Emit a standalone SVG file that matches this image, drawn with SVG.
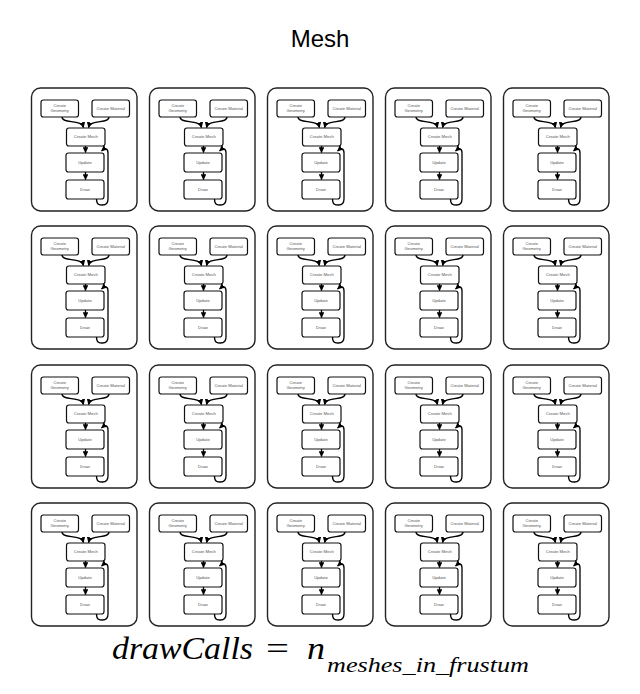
<svg xmlns="http://www.w3.org/2000/svg" width="640" height="694" viewBox="0 0 640 694">
<defs>
<style>
.frame{fill:#fff;stroke:#222;stroke-width:1.4}
.n{fill:#fff;stroke:#111;stroke-width:1.2}
.t{font-family:"Liberation Sans",Arial,sans-serif;font-size:4.2px;fill:#555;text-anchor:middle}
.e{fill:none;stroke:#000;stroke-width:1.3;marker-end:url(#ah)}
.title{font-family:"Liberation Sans",Arial,sans-serif;font-size:24px;fill:#000;text-anchor:middle}
.m{font-family:"Liberation Serif","Times New Roman",serif;font-style:italic;fill:#000}
</style>
<marker id="ah" viewBox="0 0 6 6" refX="5.5" refY="3" markerWidth="5.8" markerHeight="5.8" markerUnits="userSpaceOnUse" orient="auto"><path d="M0,0 L6,3 L0,6 z" fill="#000"/></marker>
</defs>
<rect width="640" height="694" fill="#fff"/>
<text class="title" x="320" y="47">Mesh</text>

<g id="c11" transform="translate(31.5,88)">
<rect class="frame" x="0" y="0" width="105.5" height="123" rx="9"/>
<g id="c11-geo"><rect class="n" x="9.5" y="12" width="37.5" height="17" rx="2.5"/><text class="t" x="28.25" y="19.4">Create</text><text class="t" x="28.25" y="24.4">Geometry</text></g>
<g id="c11-mat"><rect class="n" x="60.5" y="12" width="37.5" height="17" rx="2.5"/><text class="t" x="79.25" y="21.9">Create Material</text></g>
<g id="c11-mesh"><rect class="n" x="35" y="40" width="38.5" height="18" rx="2.5"/><text class="t" x="54.25" y="50.4">Create Mesh</text></g>
<g id="c11-upd"><rect class="n" x="34.5" y="65" width="38" height="19" rx="2.5"/><text class="t" x="53.5" y="75.9">Update</text></g>
<g id="c11-draw"><rect class="n" x="34.5" y="92" width="38" height="19" rx="2.5"/><text class="t" x="53.5" y="102.9">Draw</text></g>
<g id="c11-edges"><path class="e" d="M30.5,29 C30.5,36 50,31 52,39.5"/><path class="e" d="M77.5,29 C77.5,36 59,31 57,39.5"/><path class="e" d="M54,58 L54,64.5"/><path class="e" d="M54,84 L54,91.5"/><path class="e" d="M65,111 C65,117 68,117 71,117 C75,117 76.5,115 76.5,111 L76.5,65 C76.5,60 73.5,60 70,63"/></g>
</g>
<g id="c12" transform="translate(149.5,88)">
<rect class="frame" x="0" y="0" width="105.5" height="123" rx="9"/>
<g id="c12-geo"><rect class="n" x="9.5" y="12" width="37.5" height="17" rx="2.5"/><text class="t" x="28.25" y="19.4">Create</text><text class="t" x="28.25" y="24.4">Geometry</text></g>
<g id="c12-mat"><rect class="n" x="60.5" y="12" width="37.5" height="17" rx="2.5"/><text class="t" x="79.25" y="21.9">Create Material</text></g>
<g id="c12-mesh"><rect class="n" x="35" y="40" width="38.5" height="18" rx="2.5"/><text class="t" x="54.25" y="50.4">Create Mesh</text></g>
<g id="c12-upd"><rect class="n" x="34.5" y="65" width="38" height="19" rx="2.5"/><text class="t" x="53.5" y="75.9">Update</text></g>
<g id="c12-draw"><rect class="n" x="34.5" y="92" width="38" height="19" rx="2.5"/><text class="t" x="53.5" y="102.9">Draw</text></g>
<g id="c12-edges"><path class="e" d="M30.5,29 C30.5,36 50,31 52,39.5"/><path class="e" d="M77.5,29 C77.5,36 59,31 57,39.5"/><path class="e" d="M54,58 L54,64.5"/><path class="e" d="M54,84 L54,91.5"/><path class="e" d="M65,111 C65,117 68,117 71,117 C75,117 76.5,115 76.5,111 L76.5,65 C76.5,60 73.5,60 70,63"/></g>
</g>
<g id="c13" transform="translate(267.5,88)">
<rect class="frame" x="0" y="0" width="105.5" height="123" rx="9"/>
<g id="c13-geo"><rect class="n" x="9.5" y="12" width="37.5" height="17" rx="2.5"/><text class="t" x="28.25" y="19.4">Create</text><text class="t" x="28.25" y="24.4">Geometry</text></g>
<g id="c13-mat"><rect class="n" x="60.5" y="12" width="37.5" height="17" rx="2.5"/><text class="t" x="79.25" y="21.9">Create Material</text></g>
<g id="c13-mesh"><rect class="n" x="35" y="40" width="38.5" height="18" rx="2.5"/><text class="t" x="54.25" y="50.4">Create Mesh</text></g>
<g id="c13-upd"><rect class="n" x="34.5" y="65" width="38" height="19" rx="2.5"/><text class="t" x="53.5" y="75.9">Update</text></g>
<g id="c13-draw"><rect class="n" x="34.5" y="92" width="38" height="19" rx="2.5"/><text class="t" x="53.5" y="102.9">Draw</text></g>
<g id="c13-edges"><path class="e" d="M30.5,29 C30.5,36 50,31 52,39.5"/><path class="e" d="M77.5,29 C77.5,36 59,31 57,39.5"/><path class="e" d="M54,58 L54,64.5"/><path class="e" d="M54,84 L54,91.5"/><path class="e" d="M65,111 C65,117 68,117 71,117 C75,117 76.5,115 76.5,111 L76.5,65 C76.5,60 73.5,60 70,63"/></g>
</g>
<g id="c14" transform="translate(385.5,88)">
<rect class="frame" x="0" y="0" width="105.5" height="123" rx="9"/>
<g id="c14-geo"><rect class="n" x="9.5" y="12" width="37.5" height="17" rx="2.5"/><text class="t" x="28.25" y="19.4">Create</text><text class="t" x="28.25" y="24.4">Geometry</text></g>
<g id="c14-mat"><rect class="n" x="60.5" y="12" width="37.5" height="17" rx="2.5"/><text class="t" x="79.25" y="21.9">Create Material</text></g>
<g id="c14-mesh"><rect class="n" x="35" y="40" width="38.5" height="18" rx="2.5"/><text class="t" x="54.25" y="50.4">Create Mesh</text></g>
<g id="c14-upd"><rect class="n" x="34.5" y="65" width="38" height="19" rx="2.5"/><text class="t" x="53.5" y="75.9">Update</text></g>
<g id="c14-draw"><rect class="n" x="34.5" y="92" width="38" height="19" rx="2.5"/><text class="t" x="53.5" y="102.9">Draw</text></g>
<g id="c14-edges"><path class="e" d="M30.5,29 C30.5,36 50,31 52,39.5"/><path class="e" d="M77.5,29 C77.5,36 59,31 57,39.5"/><path class="e" d="M54,58 L54,64.5"/><path class="e" d="M54,84 L54,91.5"/><path class="e" d="M65,111 C65,117 68,117 71,117 C75,117 76.5,115 76.5,111 L76.5,65 C76.5,60 73.5,60 70,63"/></g>
</g>
<g id="c15" transform="translate(503.5,88)">
<rect class="frame" x="0" y="0" width="105.5" height="123" rx="9"/>
<g id="c15-geo"><rect class="n" x="9.5" y="12" width="37.5" height="17" rx="2.5"/><text class="t" x="28.25" y="19.4">Create</text><text class="t" x="28.25" y="24.4">Geometry</text></g>
<g id="c15-mat"><rect class="n" x="60.5" y="12" width="37.5" height="17" rx="2.5"/><text class="t" x="79.25" y="21.9">Create Material</text></g>
<g id="c15-mesh"><rect class="n" x="35" y="40" width="38.5" height="18" rx="2.5"/><text class="t" x="54.25" y="50.4">Create Mesh</text></g>
<g id="c15-upd"><rect class="n" x="34.5" y="65" width="38" height="19" rx="2.5"/><text class="t" x="53.5" y="75.9">Update</text></g>
<g id="c15-draw"><rect class="n" x="34.5" y="92" width="38" height="19" rx="2.5"/><text class="t" x="53.5" y="102.9">Draw</text></g>
<g id="c15-edges"><path class="e" d="M30.5,29 C30.5,36 50,31 52,39.5"/><path class="e" d="M77.5,29 C77.5,36 59,31 57,39.5"/><path class="e" d="M54,58 L54,64.5"/><path class="e" d="M54,84 L54,91.5"/><path class="e" d="M65,111 C65,117 68,117 71,117 C75,117 76.5,115 76.5,111 L76.5,65 C76.5,60 73.5,60 70,63"/></g>
</g>

<g id="c21" transform="translate(31.5,226)">
<rect class="frame" x="0" y="0" width="105.5" height="123" rx="9"/>
<g id="c21-geo"><rect class="n" x="9.5" y="12" width="37.5" height="17" rx="2.5"/><text class="t" x="28.25" y="19.4">Create</text><text class="t" x="28.25" y="24.4">Geometry</text></g>
<g id="c21-mat"><rect class="n" x="60.5" y="12" width="37.5" height="17" rx="2.5"/><text class="t" x="79.25" y="21.9">Create Material</text></g>
<g id="c21-mesh"><rect class="n" x="35" y="40" width="38.5" height="18" rx="2.5"/><text class="t" x="54.25" y="50.4">Create Mesh</text></g>
<g id="c21-upd"><rect class="n" x="34.5" y="65" width="38" height="19" rx="2.5"/><text class="t" x="53.5" y="75.9">Update</text></g>
<g id="c21-draw"><rect class="n" x="34.5" y="92" width="38" height="19" rx="2.5"/><text class="t" x="53.5" y="102.9">Draw</text></g>
<g id="c21-edges"><path class="e" d="M30.5,29 C30.5,36 50,31 52,39.5"/><path class="e" d="M77.5,29 C77.5,36 59,31 57,39.5"/><path class="e" d="M54,58 L54,64.5"/><path class="e" d="M54,84 L54,91.5"/><path class="e" d="M65,111 C65,117 68,117 71,117 C75,117 76.5,115 76.5,111 L76.5,65 C76.5,60 73.5,60 70,63"/></g>
</g>
<g id="c22" transform="translate(149.5,226)">
<rect class="frame" x="0" y="0" width="105.5" height="123" rx="9"/>
<g id="c22-geo"><rect class="n" x="9.5" y="12" width="37.5" height="17" rx="2.5"/><text class="t" x="28.25" y="19.4">Create</text><text class="t" x="28.25" y="24.4">Geometry</text></g>
<g id="c22-mat"><rect class="n" x="60.5" y="12" width="37.5" height="17" rx="2.5"/><text class="t" x="79.25" y="21.9">Create Material</text></g>
<g id="c22-mesh"><rect class="n" x="35" y="40" width="38.5" height="18" rx="2.5"/><text class="t" x="54.25" y="50.4">Create Mesh</text></g>
<g id="c22-upd"><rect class="n" x="34.5" y="65" width="38" height="19" rx="2.5"/><text class="t" x="53.5" y="75.9">Update</text></g>
<g id="c22-draw"><rect class="n" x="34.5" y="92" width="38" height="19" rx="2.5"/><text class="t" x="53.5" y="102.9">Draw</text></g>
<g id="c22-edges"><path class="e" d="M30.5,29 C30.5,36 50,31 52,39.5"/><path class="e" d="M77.5,29 C77.5,36 59,31 57,39.5"/><path class="e" d="M54,58 L54,64.5"/><path class="e" d="M54,84 L54,91.5"/><path class="e" d="M65,111 C65,117 68,117 71,117 C75,117 76.5,115 76.5,111 L76.5,65 C76.5,60 73.5,60 70,63"/></g>
</g>
<g id="c23" transform="translate(267.5,226)">
<rect class="frame" x="0" y="0" width="105.5" height="123" rx="9"/>
<g id="c23-geo"><rect class="n" x="9.5" y="12" width="37.5" height="17" rx="2.5"/><text class="t" x="28.25" y="19.4">Create</text><text class="t" x="28.25" y="24.4">Geometry</text></g>
<g id="c23-mat"><rect class="n" x="60.5" y="12" width="37.5" height="17" rx="2.5"/><text class="t" x="79.25" y="21.9">Create Material</text></g>
<g id="c23-mesh"><rect class="n" x="35" y="40" width="38.5" height="18" rx="2.5"/><text class="t" x="54.25" y="50.4">Create Mesh</text></g>
<g id="c23-upd"><rect class="n" x="34.5" y="65" width="38" height="19" rx="2.5"/><text class="t" x="53.5" y="75.9">Update</text></g>
<g id="c23-draw"><rect class="n" x="34.5" y="92" width="38" height="19" rx="2.5"/><text class="t" x="53.5" y="102.9">Draw</text></g>
<g id="c23-edges"><path class="e" d="M30.5,29 C30.5,36 50,31 52,39.5"/><path class="e" d="M77.5,29 C77.5,36 59,31 57,39.5"/><path class="e" d="M54,58 L54,64.5"/><path class="e" d="M54,84 L54,91.5"/><path class="e" d="M65,111 C65,117 68,117 71,117 C75,117 76.5,115 76.5,111 L76.5,65 C76.5,60 73.5,60 70,63"/></g>
</g>
<g id="c24" transform="translate(385.5,226)">
<rect class="frame" x="0" y="0" width="105.5" height="123" rx="9"/>
<g id="c24-geo"><rect class="n" x="9.5" y="12" width="37.5" height="17" rx="2.5"/><text class="t" x="28.25" y="19.4">Create</text><text class="t" x="28.25" y="24.4">Geometry</text></g>
<g id="c24-mat"><rect class="n" x="60.5" y="12" width="37.5" height="17" rx="2.5"/><text class="t" x="79.25" y="21.9">Create Material</text></g>
<g id="c24-mesh"><rect class="n" x="35" y="40" width="38.5" height="18" rx="2.5"/><text class="t" x="54.25" y="50.4">Create Mesh</text></g>
<g id="c24-upd"><rect class="n" x="34.5" y="65" width="38" height="19" rx="2.5"/><text class="t" x="53.5" y="75.9">Update</text></g>
<g id="c24-draw"><rect class="n" x="34.5" y="92" width="38" height="19" rx="2.5"/><text class="t" x="53.5" y="102.9">Draw</text></g>
<g id="c24-edges"><path class="e" d="M30.5,29 C30.5,36 50,31 52,39.5"/><path class="e" d="M77.5,29 C77.5,36 59,31 57,39.5"/><path class="e" d="M54,58 L54,64.5"/><path class="e" d="M54,84 L54,91.5"/><path class="e" d="M65,111 C65,117 68,117 71,117 C75,117 76.5,115 76.5,111 L76.5,65 C76.5,60 73.5,60 70,63"/></g>
</g>
<g id="c25" transform="translate(503.5,226)">
<rect class="frame" x="0" y="0" width="105.5" height="123" rx="9"/>
<g id="c25-geo"><rect class="n" x="9.5" y="12" width="37.5" height="17" rx="2.5"/><text class="t" x="28.25" y="19.4">Create</text><text class="t" x="28.25" y="24.4">Geometry</text></g>
<g id="c25-mat"><rect class="n" x="60.5" y="12" width="37.5" height="17" rx="2.5"/><text class="t" x="79.25" y="21.9">Create Material</text></g>
<g id="c25-mesh"><rect class="n" x="35" y="40" width="38.5" height="18" rx="2.5"/><text class="t" x="54.25" y="50.4">Create Mesh</text></g>
<g id="c25-upd"><rect class="n" x="34.5" y="65" width="38" height="19" rx="2.5"/><text class="t" x="53.5" y="75.9">Update</text></g>
<g id="c25-draw"><rect class="n" x="34.5" y="92" width="38" height="19" rx="2.5"/><text class="t" x="53.5" y="102.9">Draw</text></g>
<g id="c25-edges"><path class="e" d="M30.5,29 C30.5,36 50,31 52,39.5"/><path class="e" d="M77.5,29 C77.5,36 59,31 57,39.5"/><path class="e" d="M54,58 L54,64.5"/><path class="e" d="M54,84 L54,91.5"/><path class="e" d="M65,111 C65,117 68,117 71,117 C75,117 76.5,115 76.5,111 L76.5,65 C76.5,60 73.5,60 70,63"/></g>
</g>

<g id="c31" transform="translate(31.5,365)">
<rect class="frame" x="0" y="0" width="105.5" height="123" rx="9"/>
<g id="c31-geo"><rect class="n" x="9.5" y="12" width="37.5" height="17" rx="2.5"/><text class="t" x="28.25" y="19.4">Create</text><text class="t" x="28.25" y="24.4">Geometry</text></g>
<g id="c31-mat"><rect class="n" x="60.5" y="12" width="37.5" height="17" rx="2.5"/><text class="t" x="79.25" y="21.9">Create Material</text></g>
<g id="c31-mesh"><rect class="n" x="35" y="40" width="38.5" height="18" rx="2.5"/><text class="t" x="54.25" y="50.4">Create Mesh</text></g>
<g id="c31-upd"><rect class="n" x="34.5" y="65" width="38" height="19" rx="2.5"/><text class="t" x="53.5" y="75.9">Update</text></g>
<g id="c31-draw"><rect class="n" x="34.5" y="92" width="38" height="19" rx="2.5"/><text class="t" x="53.5" y="102.9">Draw</text></g>
<g id="c31-edges"><path class="e" d="M30.5,29 C30.5,36 50,31 52,39.5"/><path class="e" d="M77.5,29 C77.5,36 59,31 57,39.5"/><path class="e" d="M54,58 L54,64.5"/><path class="e" d="M54,84 L54,91.5"/><path class="e" d="M65,111 C65,117 68,117 71,117 C75,117 76.5,115 76.5,111 L76.5,65 C76.5,60 73.5,60 70,63"/></g>
</g>
<g id="c32" transform="translate(149.5,365)">
<rect class="frame" x="0" y="0" width="105.5" height="123" rx="9"/>
<g id="c32-geo"><rect class="n" x="9.5" y="12" width="37.5" height="17" rx="2.5"/><text class="t" x="28.25" y="19.4">Create</text><text class="t" x="28.25" y="24.4">Geometry</text></g>
<g id="c32-mat"><rect class="n" x="60.5" y="12" width="37.5" height="17" rx="2.5"/><text class="t" x="79.25" y="21.9">Create Material</text></g>
<g id="c32-mesh"><rect class="n" x="35" y="40" width="38.5" height="18" rx="2.5"/><text class="t" x="54.25" y="50.4">Create Mesh</text></g>
<g id="c32-upd"><rect class="n" x="34.5" y="65" width="38" height="19" rx="2.5"/><text class="t" x="53.5" y="75.9">Update</text></g>
<g id="c32-draw"><rect class="n" x="34.5" y="92" width="38" height="19" rx="2.5"/><text class="t" x="53.5" y="102.9">Draw</text></g>
<g id="c32-edges"><path class="e" d="M30.5,29 C30.5,36 50,31 52,39.5"/><path class="e" d="M77.5,29 C77.5,36 59,31 57,39.5"/><path class="e" d="M54,58 L54,64.5"/><path class="e" d="M54,84 L54,91.5"/><path class="e" d="M65,111 C65,117 68,117 71,117 C75,117 76.5,115 76.5,111 L76.5,65 C76.5,60 73.5,60 70,63"/></g>
</g>
<g id="c33" transform="translate(267.5,365)">
<rect class="frame" x="0" y="0" width="105.5" height="123" rx="9"/>
<g id="c33-geo"><rect class="n" x="9.5" y="12" width="37.5" height="17" rx="2.5"/><text class="t" x="28.25" y="19.4">Create</text><text class="t" x="28.25" y="24.4">Geometry</text></g>
<g id="c33-mat"><rect class="n" x="60.5" y="12" width="37.5" height="17" rx="2.5"/><text class="t" x="79.25" y="21.9">Create Material</text></g>
<g id="c33-mesh"><rect class="n" x="35" y="40" width="38.5" height="18" rx="2.5"/><text class="t" x="54.25" y="50.4">Create Mesh</text></g>
<g id="c33-upd"><rect class="n" x="34.5" y="65" width="38" height="19" rx="2.5"/><text class="t" x="53.5" y="75.9">Update</text></g>
<g id="c33-draw"><rect class="n" x="34.5" y="92" width="38" height="19" rx="2.5"/><text class="t" x="53.5" y="102.9">Draw</text></g>
<g id="c33-edges"><path class="e" d="M30.5,29 C30.5,36 50,31 52,39.5"/><path class="e" d="M77.5,29 C77.5,36 59,31 57,39.5"/><path class="e" d="M54,58 L54,64.5"/><path class="e" d="M54,84 L54,91.5"/><path class="e" d="M65,111 C65,117 68,117 71,117 C75,117 76.5,115 76.5,111 L76.5,65 C76.5,60 73.5,60 70,63"/></g>
</g>
<g id="c34" transform="translate(385.5,365)">
<rect class="frame" x="0" y="0" width="105.5" height="123" rx="9"/>
<g id="c34-geo"><rect class="n" x="9.5" y="12" width="37.5" height="17" rx="2.5"/><text class="t" x="28.25" y="19.4">Create</text><text class="t" x="28.25" y="24.4">Geometry</text></g>
<g id="c34-mat"><rect class="n" x="60.5" y="12" width="37.5" height="17" rx="2.5"/><text class="t" x="79.25" y="21.9">Create Material</text></g>
<g id="c34-mesh"><rect class="n" x="35" y="40" width="38.5" height="18" rx="2.5"/><text class="t" x="54.25" y="50.4">Create Mesh</text></g>
<g id="c34-upd"><rect class="n" x="34.5" y="65" width="38" height="19" rx="2.5"/><text class="t" x="53.5" y="75.9">Update</text></g>
<g id="c34-draw"><rect class="n" x="34.5" y="92" width="38" height="19" rx="2.5"/><text class="t" x="53.5" y="102.9">Draw</text></g>
<g id="c34-edges"><path class="e" d="M30.5,29 C30.5,36 50,31 52,39.5"/><path class="e" d="M77.5,29 C77.5,36 59,31 57,39.5"/><path class="e" d="M54,58 L54,64.5"/><path class="e" d="M54,84 L54,91.5"/><path class="e" d="M65,111 C65,117 68,117 71,117 C75,117 76.5,115 76.5,111 L76.5,65 C76.5,60 73.5,60 70,63"/></g>
</g>
<g id="c35" transform="translate(503.5,365)">
<rect class="frame" x="0" y="0" width="105.5" height="123" rx="9"/>
<g id="c35-geo"><rect class="n" x="9.5" y="12" width="37.5" height="17" rx="2.5"/><text class="t" x="28.25" y="19.4">Create</text><text class="t" x="28.25" y="24.4">Geometry</text></g>
<g id="c35-mat"><rect class="n" x="60.5" y="12" width="37.5" height="17" rx="2.5"/><text class="t" x="79.25" y="21.9">Create Material</text></g>
<g id="c35-mesh"><rect class="n" x="35" y="40" width="38.5" height="18" rx="2.5"/><text class="t" x="54.25" y="50.4">Create Mesh</text></g>
<g id="c35-upd"><rect class="n" x="34.5" y="65" width="38" height="19" rx="2.5"/><text class="t" x="53.5" y="75.9">Update</text></g>
<g id="c35-draw"><rect class="n" x="34.5" y="92" width="38" height="19" rx="2.5"/><text class="t" x="53.5" y="102.9">Draw</text></g>
<g id="c35-edges"><path class="e" d="M30.5,29 C30.5,36 50,31 52,39.5"/><path class="e" d="M77.5,29 C77.5,36 59,31 57,39.5"/><path class="e" d="M54,58 L54,64.5"/><path class="e" d="M54,84 L54,91.5"/><path class="e" d="M65,111 C65,117 68,117 71,117 C75,117 76.5,115 76.5,111 L76.5,65 C76.5,60 73.5,60 70,63"/></g>
</g>

<g id="c41" transform="translate(31.5,503)">
<rect class="frame" x="0" y="0" width="105.5" height="123" rx="9"/>
<g id="c41-geo"><rect class="n" x="9.5" y="12" width="37.5" height="17" rx="2.5"/><text class="t" x="28.25" y="19.4">Create</text><text class="t" x="28.25" y="24.4">Geometry</text></g>
<g id="c41-mat"><rect class="n" x="60.5" y="12" width="37.5" height="17" rx="2.5"/><text class="t" x="79.25" y="21.9">Create Material</text></g>
<g id="c41-mesh"><rect class="n" x="35" y="40" width="38.5" height="18" rx="2.5"/><text class="t" x="54.25" y="50.4">Create Mesh</text></g>
<g id="c41-upd"><rect class="n" x="34.5" y="65" width="38" height="19" rx="2.5"/><text class="t" x="53.5" y="75.9">Update</text></g>
<g id="c41-draw"><rect class="n" x="34.5" y="92" width="38" height="19" rx="2.5"/><text class="t" x="53.5" y="102.9">Draw</text></g>
<g id="c41-edges"><path class="e" d="M30.5,29 C30.5,36 50,31 52,39.5"/><path class="e" d="M77.5,29 C77.5,36 59,31 57,39.5"/><path class="e" d="M54,58 L54,64.5"/><path class="e" d="M54,84 L54,91.5"/><path class="e" d="M65,111 C65,117 68,117 71,117 C75,117 76.5,115 76.5,111 L76.5,65 C76.5,60 73.5,60 70,63"/></g>
</g>
<g id="c42" transform="translate(149.5,503)">
<rect class="frame" x="0" y="0" width="105.5" height="123" rx="9"/>
<g id="c42-geo"><rect class="n" x="9.5" y="12" width="37.5" height="17" rx="2.5"/><text class="t" x="28.25" y="19.4">Create</text><text class="t" x="28.25" y="24.4">Geometry</text></g>
<g id="c42-mat"><rect class="n" x="60.5" y="12" width="37.5" height="17" rx="2.5"/><text class="t" x="79.25" y="21.9">Create Material</text></g>
<g id="c42-mesh"><rect class="n" x="35" y="40" width="38.5" height="18" rx="2.5"/><text class="t" x="54.25" y="50.4">Create Mesh</text></g>
<g id="c42-upd"><rect class="n" x="34.5" y="65" width="38" height="19" rx="2.5"/><text class="t" x="53.5" y="75.9">Update</text></g>
<g id="c42-draw"><rect class="n" x="34.5" y="92" width="38" height="19" rx="2.5"/><text class="t" x="53.5" y="102.9">Draw</text></g>
<g id="c42-edges"><path class="e" d="M30.5,29 C30.5,36 50,31 52,39.5"/><path class="e" d="M77.5,29 C77.5,36 59,31 57,39.5"/><path class="e" d="M54,58 L54,64.5"/><path class="e" d="M54,84 L54,91.5"/><path class="e" d="M65,111 C65,117 68,117 71,117 C75,117 76.5,115 76.5,111 L76.5,65 C76.5,60 73.5,60 70,63"/></g>
</g>
<g id="c43" transform="translate(267.5,503)">
<rect class="frame" x="0" y="0" width="105.5" height="123" rx="9"/>
<g id="c43-geo"><rect class="n" x="9.5" y="12" width="37.5" height="17" rx="2.5"/><text class="t" x="28.25" y="19.4">Create</text><text class="t" x="28.25" y="24.4">Geometry</text></g>
<g id="c43-mat"><rect class="n" x="60.5" y="12" width="37.5" height="17" rx="2.5"/><text class="t" x="79.25" y="21.9">Create Material</text></g>
<g id="c43-mesh"><rect class="n" x="35" y="40" width="38.5" height="18" rx="2.5"/><text class="t" x="54.25" y="50.4">Create Mesh</text></g>
<g id="c43-upd"><rect class="n" x="34.5" y="65" width="38" height="19" rx="2.5"/><text class="t" x="53.5" y="75.9">Update</text></g>
<g id="c43-draw"><rect class="n" x="34.5" y="92" width="38" height="19" rx="2.5"/><text class="t" x="53.5" y="102.9">Draw</text></g>
<g id="c43-edges"><path class="e" d="M30.5,29 C30.5,36 50,31 52,39.5"/><path class="e" d="M77.5,29 C77.5,36 59,31 57,39.5"/><path class="e" d="M54,58 L54,64.5"/><path class="e" d="M54,84 L54,91.5"/><path class="e" d="M65,111 C65,117 68,117 71,117 C75,117 76.5,115 76.5,111 L76.5,65 C76.5,60 73.5,60 70,63"/></g>
</g>
<g id="c44" transform="translate(385.5,503)">
<rect class="frame" x="0" y="0" width="105.5" height="123" rx="9"/>
<g id="c44-geo"><rect class="n" x="9.5" y="12" width="37.5" height="17" rx="2.5"/><text class="t" x="28.25" y="19.4">Create</text><text class="t" x="28.25" y="24.4">Geometry</text></g>
<g id="c44-mat"><rect class="n" x="60.5" y="12" width="37.5" height="17" rx="2.5"/><text class="t" x="79.25" y="21.9">Create Material</text></g>
<g id="c44-mesh"><rect class="n" x="35" y="40" width="38.5" height="18" rx="2.5"/><text class="t" x="54.25" y="50.4">Create Mesh</text></g>
<g id="c44-upd"><rect class="n" x="34.5" y="65" width="38" height="19" rx="2.5"/><text class="t" x="53.5" y="75.9">Update</text></g>
<g id="c44-draw"><rect class="n" x="34.5" y="92" width="38" height="19" rx="2.5"/><text class="t" x="53.5" y="102.9">Draw</text></g>
<g id="c44-edges"><path class="e" d="M30.5,29 C30.5,36 50,31 52,39.5"/><path class="e" d="M77.5,29 C77.5,36 59,31 57,39.5"/><path class="e" d="M54,58 L54,64.5"/><path class="e" d="M54,84 L54,91.5"/><path class="e" d="M65,111 C65,117 68,117 71,117 C75,117 76.5,115 76.5,111 L76.5,65 C76.5,60 73.5,60 70,63"/></g>
</g>
<g id="c45" transform="translate(503.5,503)">
<rect class="frame" x="0" y="0" width="105.5" height="123" rx="9"/>
<g id="c45-geo"><rect class="n" x="9.5" y="12" width="37.5" height="17" rx="2.5"/><text class="t" x="28.25" y="19.4">Create</text><text class="t" x="28.25" y="24.4">Geometry</text></g>
<g id="c45-mat"><rect class="n" x="60.5" y="12" width="37.5" height="17" rx="2.5"/><text class="t" x="79.25" y="21.9">Create Material</text></g>
<g id="c45-mesh"><rect class="n" x="35" y="40" width="38.5" height="18" rx="2.5"/><text class="t" x="54.25" y="50.4">Create Mesh</text></g>
<g id="c45-upd"><rect class="n" x="34.5" y="65" width="38" height="19" rx="2.5"/><text class="t" x="53.5" y="75.9">Update</text></g>
<g id="c45-draw"><rect class="n" x="34.5" y="92" width="38" height="19" rx="2.5"/><text class="t" x="53.5" y="102.9">Draw</text></g>
<g id="c45-edges"><path class="e" d="M30.5,29 C30.5,36 50,31 52,39.5"/><path class="e" d="M77.5,29 C77.5,36 59,31 57,39.5"/><path class="e" d="M54,58 L54,64.5"/><path class="e" d="M54,84 L54,91.5"/><path class="e" d="M65,111 C65,117 68,117 71,117 C75,117 76.5,115 76.5,111 L76.5,65 C76.5,60 73.5,60 70,63"/></g>
</g>

<g id="formula">
<text class="m" x="112" y="659" font-size="31" textLength="141" lengthAdjust="spacingAndGlyphs">drawCalls</text>
<text x="266" y="659" font-family="Liberation Serif,'Times New Roman',serif" font-size="32" textLength="23" lengthAdjust="spacingAndGlyphs">=</text>
<text class="m" x="307" y="659" font-size="31" textLength="18" lengthAdjust="spacingAndGlyphs">n</text>
<text class="m" x="327" y="672" font-size="22" textLength="202" lengthAdjust="spacingAndGlyphs">meshes_in_frustum</text>
</g>
</svg>
